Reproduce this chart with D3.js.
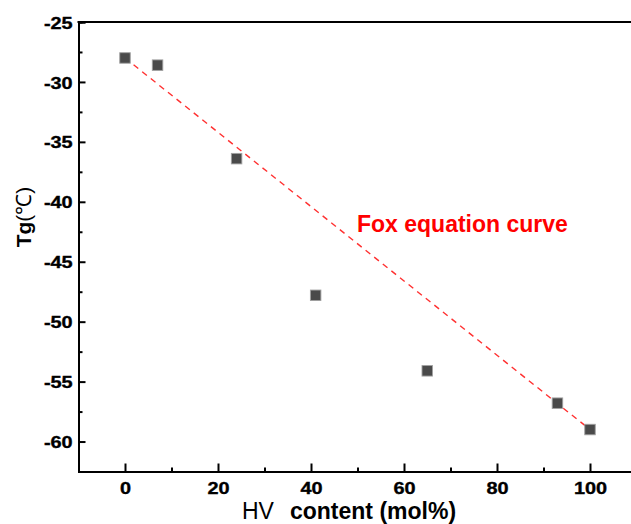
<!DOCTYPE html>
<html>
<head>
<meta charset="utf-8">
<script src="https://cdn.jsdelivr.net/npm/d3@7"></script>
<style>
  html, body { margin: 0; padding: 0; background: #fff; }
  svg { display: block; font-family: "Liberation Sans", Arial, sans-serif; }
</style>
</head>
<body>
<svg id="chart" width="631" height="524"></svg>
<script>
// HV content (mol%) and measured glass transition temperature Tg (°C)
const hvContent = [0, 7, 24, 41, 65, 93, 100];
const tgMeasured = [-28, -28.6, -36.4, -47.8, -54.1, -56.8, -59];

// Fox equation prediction between the two homopolymers
const foxX = [0, 100];
const foxY = [-28, -59];

const xTicks = [0, 20, 40, 60, 80, 100];
const xMinor = [-10, 10, 30, 50, 70, 90, 110];
const yTicks = [-25, -30, -35, -40, -45, -50, -55, -60];
const yMinor = [-27.5, -32.5, -37.5, -42.5, -47.5, -52.5, -57.5, -62.5];

const svg = d3.select("#chart");

const x = d3.scaleLinear().domain([-10, 110]).range([78.5, 636.5]);
const y = d3.scaleLinear().domain([-62.5, -25]).range([471.5, 22]);

// minor ticks (drawn first so major axes overlay them)
const gxMinor = svg.append("g").attr("transform", `translate(0,${y(-62.5)})`)
  .call(d3.axisBottom(x).tickValues(xMinor).tickSize(-4).tickFormat(""));
const gyMinor = svg.append("g").attr("transform", `translate(${x(-10)},0)`)
  .call(d3.axisLeft(y).tickValues(yMinor).tickSize(-4).tickFormat(""));

// major axes, ticks pointing into the plot; labels use a plain hyphen
const fmt = d => String(d);
const gx = svg.append("g").attr("transform", `translate(0,${y(-62.5)})`)
  .call(d3.axisBottom(x).tickValues(xTicks).tickSize(-8).tickPadding(10.5).tickFormat(fmt));
const gy = svg.append("g").attr("transform", `translate(${x(-10)},0)`)
  .call(d3.axisLeft(y).tickValues(yTicks).tickSize(-7).tickPadding(5).tickFormat(fmt));

[gx, gy, gxMinor, gyMinor].forEach(g => {
  g.attr("font-family", "'Liberation Sans', Arial, sans-serif")
   .attr("font-size", 17)
   .attr("font-weight", "bold");
  g.select(".domain").attr("stroke", "#000").attr("stroke-width", 2);
  g.selectAll(".tick line").attr("stroke", "#000").attr("stroke-width", 2);
  // wide, heavy numerals
  g.selectAll(".tick text")
    .attr("fill", "#000")
    .attr("stroke", "#000").attr("stroke-width", 0.35)
    .attr("transform", "scale(1.17,1)");
});
gy.selectAll(".tick text").attr("dy", "0.36em");

// top frame line
svg.append("line")
  .attr("x1", x(-10) - 1).attr("x2", x(110))
  .attr("y1", y(-25)).attr("y2", y(-25))
  .attr("stroke", "#000").attr("stroke-width", 2);

// Fox equation line
svg.append("path")
  .datum(foxX.map((d, i) => [d, foxY[i]]))
  .attr("d", d3.line().x(d => x(d[0])).y(d => y(d[1])))
  .attr("fill", "none")
  .attr("stroke", "#ff3030")
  .attr("stroke-width", 1.4)
  .attr("stroke-dasharray", "6,5");

// measured points
const size = 10.5;
svg.append("g").selectAll("rect")
  .data(hvContent.map((d, i) => [d, tgMeasured[i]]))
  .join("rect")
  .attr("x", d => x(d[0]) - size / 2)
  .attr("y", d => y(d[1]) - size / 2)
  .attr("width", size).attr("height", size)
  .attr("fill", "#4a4a4a")
  .attr("stroke", "#a0a0a0")
  .attr("stroke-width", 0.9);

// annotation
svg.append("text")
  .attr("x", 357).attr("y", 231.5)
  .attr("fill", "#ff0000")
  .attr("font-size", 23)
  .attr("font-weight", "bold")
  .text("Fox equation curve");

// x axis title
const xt = svg.append("text")
  .attr("x", 242).attr("y", 519)
  .attr("fill", "#000")
  .attr("font-size", 23);
xt.append("tspan").text("HV");
xt.append("tspan").attr("dx", 16).attr("font-weight", "bold").text("content (mol%)");

// y axis title
const yt = svg.append("text")
  .attr("transform", `translate(31,217) rotate(-90)`)
  .attr("text-anchor", "middle")
  .attr("fill", "#000")
  .attr("font-size", 21);
yt.append("tspan").attr("font-weight", "bold").text("Tg");
yt.append("tspan").text("(℃)");
</script>
</body>
</html>
